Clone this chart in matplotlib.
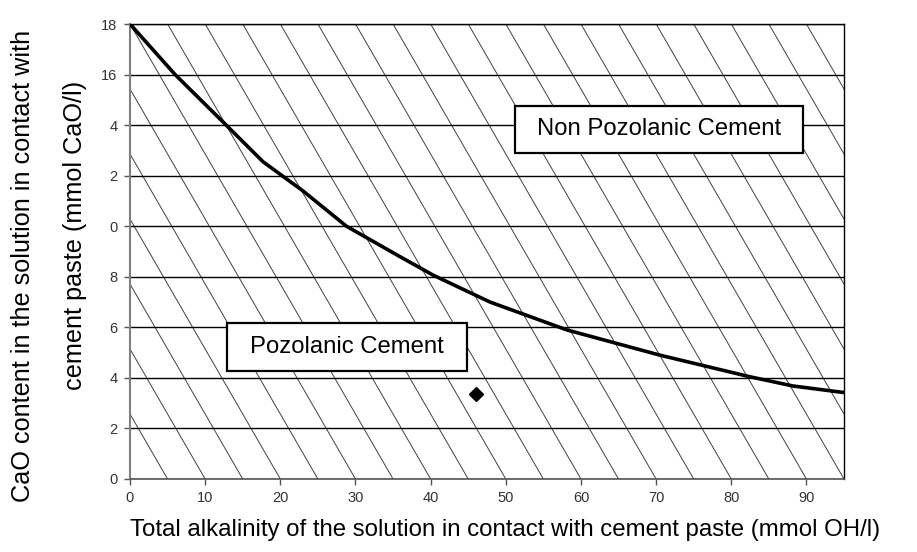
import numpy as np
import matplotlib
matplotlib.use("Agg")
import matplotlib.pyplot as plt
from matplotlib.patches import Rectangle

plt.rcParams['font.family'] = ['Liberation Sans', 'DejaVu Sans']

# ---- data ----
curve_x = [0, 6.0, 12.8, 17.7, 23.0, 28.8, 35.9, 40.3, 47.9, 58.1, 70.5, 82.4, 88.2, 95.0]
curve_y = [18.0, 16.0, 14.0, 12.55, 11.4, 10.0, 8.8, 8.07, 7.0, 5.9, 4.9, 4.05, 3.68, 3.42]
point_x = [46.0]
point_y = [3.37]
x_ticks = [0, 10, 20, 30, 40, 50, 60, 70, 80, 90]
x_tick_labels = ["0", "10", "20", "30", "40", "50", "60", "70", "80", "90"]
y_ticks = [0, 2, 4, 6, 8, 10, 12, 14, 16, 18]
y_tick_labels = ["0", "2", "4", "6", "8", "0", "2", "4", "16", "18"]
region_labels = ["Non Pozolanic Cement", "Pozolanic Cement"]
region_centers = [(70.4, 13.83), (28.9, 5.22)]
region_sizes = [(38.4, 1.86), (32.0, 1.90)]

fig = plt.figure(figsize=(9.17, 5.52), dpi=100)
ax = fig.add_axes([130/917, 1-479/552, (844-130)/917, (479-24)/552])
ax.set_xlim(0, 95)
ax.set_ylim(0, 18)

# hatch background
for x0 in np.arange(-40, 100, 5):
    ax.plot([x0, x0 + 35], [18, 0], color='#404040', lw=0.7, zorder=1)

# gridlines
for yv in y_ticks:
    ax.axhline(yv, color='black', lw=1.0, zorder=2)

# curve and point
ax.plot(curve_x, curve_y, color='black', lw=2.6, zorder=4,
        solid_capstyle='round', solid_joinstyle='round')
ax.plot(point_x, point_y, marker='D', color='black', ms=7, ls='none', zorder=5)

# region labels
for lab, (cx, cy), (w, h) in zip(region_labels, region_centers, region_sizes):
    ax.add_patch(Rectangle((cx - w/2, cy - h/2), w, h, facecolor='white',
                           edgecolor='black', lw=1.6, zorder=6))
    ax.text(cx, cy, lab, ha='center', va='center', fontsize=17.2, zorder=7, color='black')

ax.set_xticks(x_ticks)
ax.set_xticklabels(x_tick_labels)
ax.set_yticks(y_ticks)
ax.set_yticklabels(y_tick_labels)
ax.tick_params(axis='both', direction='out', length=4, width=1, color='#555555',
               labelsize=10.5, labelcolor='#333333')
ax.tick_params(axis='y', pad=5)
ax.tick_params(axis='x', pad=5)

ax.spines['left'].set_color('#808080')
ax.spines['left'].set_linewidth(1.5)
ax.spines['bottom'].set_color('#555555')
ax.spines['bottom'].set_linewidth(1.2)
ax.spines['right'].set_color('black')
ax.spines['right'].set_linewidth(1.0)
ax.spines['top'].set_color('black')
ax.spines['top'].set_linewidth(1.0)

fig.text(505/917, 1-530/552,
         "Total alkalinity of the solution in contact with cement paste (mmol OH/l)",
         ha='center', va='center', fontsize=17.3)
fig.text(23/917, 1-266/552, "CaO content in the solution in contact with",
         ha='center', va='center', rotation=90, fontsize=18.2)
fig.text(75/917, 1-235/552, "cement paste (mmol CaO/l)",
         ha='center', va='center', rotation=90, fontsize=18.2)

fig.savefig("out.png", dpi=100, facecolor='white')
